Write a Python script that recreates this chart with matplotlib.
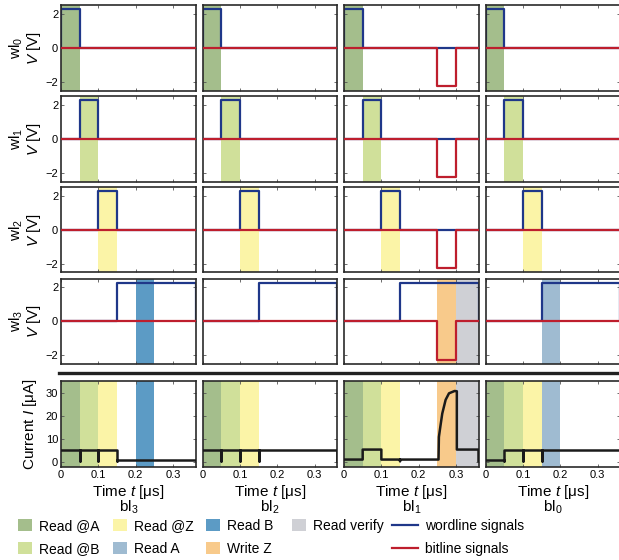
import matplotlib.pyplot as plt
from matplotlib.patches import Patch
from matplotlib.lines import Line2D

plt.rcParams['font.family'] = ['Liberation Sans', 'DejaVu Sans']
plt.rcParams['mathtext.fontset'] = 'custom'
plt.rcParams['mathtext.rm'] = 'Liberation Sans'
plt.rcParams['mathtext.it'] = 'Liberation Sans:italic'

# time axis end [us]
t_end = 0.36

# shaded operation phases
phase_names = ['Read @A', 'Read @B', 'Read @Z', 'Read B', 'Read A', 'Write Z', 'Read verify']
phase_start = [0.00, 0.05, 0.10, 0.20, 0.15, 0.25, 0.30]
phase_end = [0.05, 0.10, 0.15, 0.25, 0.20, 0.30, 0.36]
phase_colors = ['#a4be8c', '#d0e09a', '#fbf4a7', '#5c9bc5', '#9fbbd1', '#f8ca8b', '#cfd0d5']

# phases shaded in the wl3 row for each column (bl3, bl2, bl1, bl0)
wl3_phases = [['Read B'], [], ['Write Z', 'Read verify'], ['Read A']]

# wordline pulses
wl_names = ['wl$_0$', 'wl$_1$', 'wl$_2$', 'wl$_3$']
wl_on = [0.00, 0.05, 0.10, 0.15]
wl_off = [0.05, 0.10, 0.15, 0.36]
wl_level = 2.25

# bitline write pulse per column
bl_names = ['bl$_3$', 'bl$_2$', 'bl$_1$', 'bl$_0$']
bl_level = [0.0, 0.0, -2.25, 0.0]
bl_on = 0.25
bl_off = 0.30

# measured bitline currents [uA]
bl3_t = [0, 0.05, 0.05, 0.05, 0.10, 0.10, 0.10, 0.15, 0.15, 0.15, 0.36]
bl3_i = [5.5, 5.5, 0.5, 5.5, 5.5, 0.5, 5.5, 5.5, 0.5, 1.2, 1.2]
bl2_t = [0, 0.05, 0.05, 0.05, 0.10, 0.10, 0.10, 0.15, 0.15, 0.15, 0.36, 0.36]
bl2_i = [5.5, 5.5, 0.5, 5.5, 5.5, 0.5, 5.5, 5.5, 0.5, 5.5, 5.5, 0.5]
bl1_t = [0, 0.05, 0.05, 0.10, 0.10, 0.15, 0.15, 0.15, 0.253, 0.254, 0.258,
         0.263, 0.272, 0.281, 0.296, 0.302, 0.302, 0.36, 0.36]
bl1_i = [1.2, 1.2, 5.5, 5.5, 1.2, 1.2, 0.5, 1.2, 1.2, 10.9, 15.5,
         21.0, 26.9, 29.7, 30.7, 30.6, 5.5, 5.5, 0.5]
bl0_t = [0, 0.05, 0.05, 0.05, 0.10, 0.10, 0.10, 0.15, 0.15, 0.15, 0.36]
bl0_i = [1.2, 1.2, 0.5, 5.5, 5.5, 0.5, 5.5, 5.5, 0.5, 5.5, 5.5]
cur_t = [bl3_t, bl2_t, bl1_t, bl0_t]
cur_i = [bl3_i, bl2_i, bl1_i, bl0_i]

# legend layout: entries per legend column
legend_cols = [['Read @A', 'Read @B'], ['Read @Z', 'Read A'], ['Read B', 'Write Z'], ['Read verify']]

wl_color = '#1f3789'
bl_color = '#be1e2d'
spine_color = '#2a2a2a'

W, H = 619, 560
fig = plt.figure(figsize=(W / 100, H / 100), dpi=100)

col_left = [61, 202.5, 344, 485.5]
col_w = 134.5
row_top = [5, 96, 187, 278.5]
row_h = 85.5
cur_top, cur_h = 381, 86


def px_axes(left, top, w, h):
    return fig.add_axes([left / W, 1 - (top + h) / H, w / W, h / H])


def style(ax):
    ax.set_xlim(0, t_end)
    ax.set_xticks([0, 0.1, 0.2, 0.3])
    ax.tick_params(direction='in', length=2.5, width=0.6, top=True, right=True,
                   labelsize=8, pad=2, color='#555555')
    for s in ax.spines.values():
        s.set_linewidth(1.2)
        s.set_color(spine_color)


def shade(ax, names):
    for n in names:
        k = phase_names.index(n)
        ax.axvspan(phase_start[k], phase_end[k], color=phase_colors[k], lw=0, zorder=0)


# voltage panels
for r in range(4):
    for c in range(4):
        ax = px_axes(col_left[c], row_top[r], col_w, row_h)
        style(ax)
        if r < 3:
            shade(ax, [phase_names[r]])
        else:
            shade(ax, wl3_phases[c])
        ax.plot([0, wl_on[r], wl_on[r], wl_off[r], wl_off[r], t_end],
                [0, 0, wl_level, wl_level, 0, 0], color=wl_color, lw=1.6, zorder=2)
        ax.plot([0, bl_on, bl_on, bl_off, bl_off, t_end],
                [0, 0, bl_level[c], bl_level[c], 0, 0], color=bl_color, lw=1.6, zorder=3)
        ax.set_ylim(-2.5, 2.5)
        ax.set_yticks([-2, 0, 2])
        ax.set_xticklabels([])
        if c == 0:
            ax.set_yticklabels(['\u22122', '0', '2'])
            ax.set_ylabel(wl_names[r] + '\n$V$ [V]', fontsize=11, linespacing=0.95, labelpad=2)
        else:
            ax.set_yticklabels([])

# current panels
for c in range(4):
    ax = px_axes(col_left[c], cur_top, col_w, cur_h)
    style(ax)
    shade(ax, phase_names[:3] + wl3_phases[c])
    ax.plot(cur_t[c], cur_i[c], color='#1a1a1a', lw=1.8, zorder=3)
    ax.set_ylim(-2, 35)
    ax.set_yticks([0, 10, 20, 30])
    ax.set_xticklabels(['0', '0.1', '0.2', '0.3'])
    ax.set_xlabel('Time $t$ [\u03bcs]\n' + bl_names[c], fontsize=11, linespacing=0.82, labelpad=2)
    if c == 0:
        ax.set_ylabel('Current $I$ [\u03bcA]', fontsize=11, labelpad=5)
    else:
        ax.set_yticklabels([])

# thick separator between voltage and current rows
fig.add_artist(Line2D([59 / W, 1], [1 - 372.5 / H] * 2, transform=fig.transFigure,
                      lw=2.4, color='#222222'))

# legend: one small legend per column so the spacing follows the original
legend_x = [18, 113, 206, 292]
legend_top = 519
for x, names in zip(legend_x, legend_cols):
    handles = [Patch(facecolor=phase_colors[phase_names.index(n)], edgecolor='none', label=n)
               for n in names]
    fig.legend(handles=handles, loc='upper left', bbox_to_anchor=(x / W, 1 - legend_top / H),
               frameon=False, fontsize=10, handlelength=1.0, handleheight=1.0,
               handletextpad=0.5, labelspacing=0.62, borderpad=0, borderaxespad=0)
line_handles = [Line2D([], [], color=wl_color, lw=1.6, label='wordline signals'),
                Line2D([], [], color=bl_color, lw=1.6, label='bitline signals')]
fig.legend(handles=line_handles, loc='upper left', bbox_to_anchor=(392 / W, 1 - legend_top / H),
           frameon=False, fontsize=10, handlelength=1.9, handletextpad=0.45,
           labelspacing=0.62, borderpad=0, borderaxespad=0)

fig.savefig('out.png', dpi=100)
